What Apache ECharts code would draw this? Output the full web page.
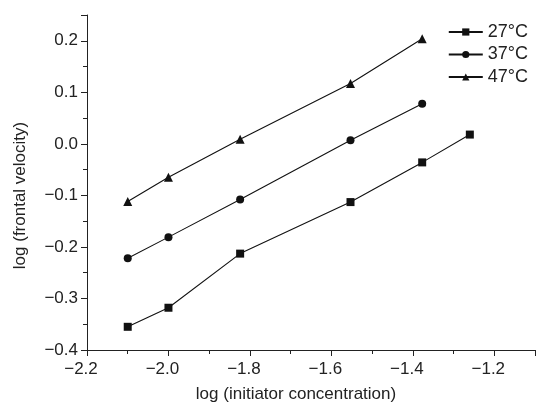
<!DOCTYPE html>
<html>
<head>
<meta charset="utf-8">
<script src="https://cdn.jsdelivr.net/npm/echarts@6/dist/echarts.min.js"></script>
<style>
  html, body { margin: 0; padding: 0; background: #fff; }
  #graph1 { width: 538px; height: 408px; }
</style>
</head>
<body>
<div id="graph1"></div>
<script>
/* log(initiator concentration) */
var x27 = [-2.1, -2.0, -1.824, -1.553, -1.377, -1.26];
var x37 = [-2.1, -2.0, -1.824, -1.553, -1.377];
var x47 = [-2.1, -2.0, -1.824, -1.553, -1.377];
/* log(frontal velocity) */
var y27 = [-0.355, -0.318, -0.213, -0.113, -0.036, 0.018];
var y37 = [-0.222, -0.181, -0.108, 0.007, 0.078];
var y47 = [-0.112, -0.065, 0.009, 0.117, 0.204];
var names = ['27°C', '37°C', '47°C'];

function pairs(xs, ys) {
  var out = [];
  for (var i in xs) {
    out[i] = [xs[i], ys[i]];
  }
  return out;
}

function minus(v, d) {
  return v.toFixed(d).replace('-', '\u2212');
}

var myChart = echarts.init(document.getElementById('graph1'));
var font = 'Liberation Sans, Arial, sans-serif';

function lineSeries(name, data, symbol, size) {
  return {
    name: name,
    type: 'line',
    data: data,
    symbol: symbol,
    symbolSize: size,
    color: '#111',
    lineStyle: { color: '#111', width: 1.1 },
    itemStyle: { color: '#111' },
    animation: false
  };
}

var option = {
  animation: false,
  grid: { left: 87, right: 3, top: 15, bottom: 57 },
  legend: {
    orient: 'vertical',
    right: 5,
    top: 18,
    itemWidth: 34,
    itemHeight: 9,
    itemGap: 4.5,
    textStyle: { fontFamily: font, fontSize: 18, color: '#222' },
    data: names
  },
  xAxis: {
    type: 'value',
    min: -2.2,
    max: -1.1,
    interval: 0.2,
    name: 'log (initiator concentration)',
    nameLocation: 'middle',
    nameGap: 36,
    nameTextStyle: { fontFamily: font, fontSize: 17, color: '#222', padding: [0, 30, 0, 0] },
    axisLine: { onZero: false, lineStyle: { color: '#222', width: 1 } },
    axisTick: { length: 6, lineStyle: { color: '#222' } },
    minorTick: { show: true, splitNumber: 2, length: 4, lineStyle: { color: '#222' } },
    splitLine: { show: false },
    axisLabel: {
      showMaxLabel: false,
      fontFamily: font, fontSize: 17, color: '#222', margin: 11,
      padding: [0, 12, 0, 0],
      formatter: function (v) { return minus(v, 1); }
    }
  },
  yAxis: {
    type: 'value',
    min: -0.4,
    max: 0.25,
    interval: 0.1,
    name: 'log (frontal velocity)',
    nameLocation: 'middle',
    nameGap: 58,
    nameTextStyle: { fontFamily: font, fontSize: 17, color: '#222', padding: [0, 26, 0, 0] },
    axisLine: { show: true, onZero: false, lineStyle: { color: '#222', width: 1 } },
    axisTick: { show: true, length: 6, lineStyle: { color: '#222' } },
    minorTick: { show: true, splitNumber: 2, length: 4, lineStyle: { color: '#222' } },
    splitLine: { show: false },
    axisLabel: {
      showMaxLabel: false,
      fontFamily: font, fontSize: 17, color: '#222', margin: 9,
      formatter: function (v) { return minus(v, 1); }
    }
  },
  series: [
    lineSeries(names[0], pairs(x27, y27), 'rect', 8),
    lineSeries(names[1], pairs(x37, y37), 'circle', 8),
    lineSeries(names[2], pairs(x47, y47), 'triangle', 9)
  ]
};

myChart.setOption(option);
</script>
</body>
</html>
